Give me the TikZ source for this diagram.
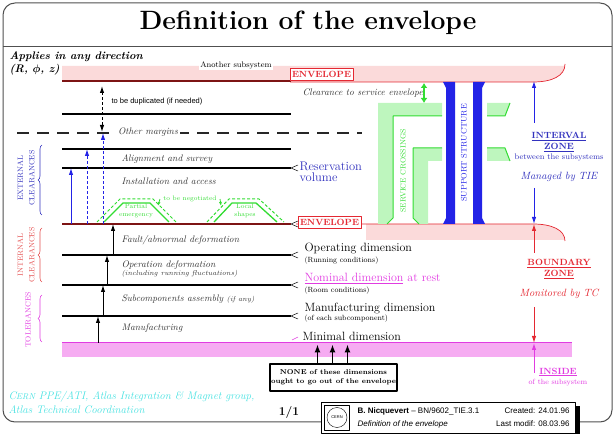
\documentclass[tikz,border=0pt]{standalone}
\usepackage{amsmath}
\usepackage{fontspec}
\newfontfamily\helv{Liberation Sans}
\usetikzlibrary{arrows.meta,decorations.pathreplacing}

\definecolor{framec}{RGB}{80,80,80}
\definecolor{envred}{RGB}{125,20,20}
\definecolor{envpink}{RGB}{251,218,218}
\definecolor{redtxt}{RGB}{228,40,50}
\definecolor{magline}{RGB}{225,60,225}
\definecolor{magfill}{RGB}{246,172,242}
\definecolor{grline}{RGB}{50,220,50}
\definecolor{grfill}{RGB}{190,246,190}
\definecolor{bluebar}{RGB}{35,35,230}
\definecolor{bluetxt}{RGB}{50,50,190}
\definecolor{cyantxt}{RGB}{70,225,225}
\definecolor{salmon}{RGB}{228,80,80}

\begin{document}
\begin{tikzpicture}[x=1pt,y=-1pt,line join=round,
  lbl/.style={anchor=west,text=black!80,font=\fontsize{9.5}{11}\selectfont\itshape},
  dimtxt/.style={anchor=west,font=\fontsize{12}{13}\selectfont},
  dimsub/.style={anchor=west,font=\fontsize{7.5}{8}\selectfont},
  envbox/.style={draw=redtxt,fill=white,text=redtxt,line width=0.7pt,inner sep=0pt,
    minimum width=63,minimum height=12.5,font=\fontsize{9}{10}\selectfont\bfseries},
  zonetxt/.style={align=center,font=\fontsize{9}{10.5}\selectfont\bfseries},
  zonesub/.style={font=\fontsize{8}{9}\selectfont},
  zoneit/.style={font=\fontsize{10.5}{12}\selectfont\itshape},
  sidetxt/.style={rotate=90,align=center,font=\fontsize{7.5}{11.5}\selectfont},
  sbrace/.style={decorate,decoration={brace,amplitude=4pt},line width=0.6pt},
  chev/.style={line width=0.5pt},
  lvl/.style={line width=1.2pt},
  arr/.style={line width=1pt,-{Latex[length=7pt,width=4.5pt]}},
  dsh/.style={dash pattern=on 3pt off 2pt},
  grn/.style={text=grline,font=\fontsize{6.5}{7.5}\selectfont,align=center}]

\useasboundingbox (0,0) rectangle (616,435);

% frame and title
\draw[framec,line width=1pt,rounded corners=12] (3,3) rectangle (612,422);
\draw[framec,line width=1pt] (3,47) -- (612,47);
\node[font=\fontsize{26.5}{30}\selectfont\bfseries] (title) at (308,23) {Definition of the envelope};
\node[anchor=west,font=\fontsize{11}{12}\selectfont\bfseries\itshape] (applies) at (6,57) {Applies in any direction};
\node[anchor=west,font=\fontsize{11}{12}\selectfont\bfseries\itshape] (rphiz) at (6,70) {(R, $\boldsymbol{\phi}$, z)};

\foreach \n/\y in {envu/81,dup/114,marg/133,align/149,resv/168,envl/224,oper/255,nom/285,manu/316,min/343}
  \coordinate (lv\n) at (0,\y);
\coordinate (zx) at (534,0);

% envelopes
\fill[envpink] (62,66) -- (565,66) .. controls (565,76) and (552,82) .. (533,82) -- (62,82) -- cycle;
\fill[envpink] (366,224) -- (533,224) .. controls (552,224) and (565,230) .. (565,240) -- (366,240) -- cycle;
\draw[redtxt,line width=0.7pt] (290,82) -- (533,82) .. controls (552,82) and (565,76) .. (565,64);
\draw[redtxt,line width=0.7pt] (296,224) -- (533,224) .. controls (552,224) and (565,230) .. (565,241);
\draw[envred,line width=2.6pt] ([xshift=62]lvenvu) -- ([xshift=291]lvenvu);
\draw[envred,line width=2.6pt] ([xshift=62]lvenvl) -- ([xshift=291]lvenvl);
\node[fill=white,inner sep=1.5pt,font=\fontsize{8}{9}\selectfont] (another) at (236,65) {Another subsystem};
\node[envbox] (envtop) at (321.5,74.5) {ENVELOPE};
\node[envbox] (envbot) at (329.5,222.5) {ENVELOPE};

% service crossings and support
\fill[grfill] (378,103) -- (442,103) -- (442,116) -- (393,116) -- (393,218) -- (387,224) -- (378,224) -- cycle;
\fill[grfill] (413,148) -- (442,148) -- (442,161) -- (428,161) -- (428,224) -- (419,224) -- (413,218) -- cycle;
\fill[grfill] (487,103) -- (510,103) -- (505,116) -- (487,116) -- cycle;
\fill[grfill] (487,148) -- (505,148) -- (510,161) -- (487,161) -- cycle;
\draw[grline,line width=1pt] (442,116) -- (393,116) -- (393,218) -- (387,224);
\draw[grline,line width=1pt] (442,148) -- (413,148) -- (413,218) -- (419,224);
\draw[grline,line width=1pt] (487,116) -- (505,116) -- (510,103);
\draw[grline,line width=1pt] (487,148) -- (505,148) -- (510,161);
\node[sidetxt,text=grline,font=\fontsize{7.5}{9}\selectfont] (servc) at (403,171) {SERVICE CROSSINGS};
\fill[bluebar] (443,82) -- (455,82) -- (455,224) -- (443,224) -- (446,218) -- (446,88) -- cycle;
\fill[bluebar] (473,82) -- (485,82) -- (482,88) -- (482,218) -- (485,224) -- (473,224) -- cycle;
\node[sidetxt,text=bluebar,font=\fontsize{8}{9}\selectfont] (supp) at (464,153) {SUPPORT STRUCTURE};
\node[lbl] (clear) at (299,93) {Clearance to service envelope};
\coordinate (clra) at (424,83);
\coordinate (clrb) at (424,103);
\draw[grline,line width=1.5pt,{Latex[length=5pt,width=7pt]}-{Latex[length=5pt,width=7pt]}] (clra) -- (clrb);

% levels
\foreach \n in {dup,align,resv,oper,nom,manu}
  \draw[lvl] ([xshift=62]lv\n) -- ([xshift=291]lv\n);
\draw[lvl,black!85,dash pattern=on 12pt off 8pt] ([xshift=17]lvmarg) -- ([xshift=362]lvmarg);
\foreach \n in {resv,oper,nom,manu,envl}
  \draw[chev] ([xshift=298,yshift=3]lv\n) -- ([xshift=291]lv\n) -- ([xshift=298,yshift=-3]lv\n);
\fill[magfill] (62,343) rectangle (572,357);
\draw[magline,line width=1pt] ([xshift=62]lvmin) -- ([xshift=572]lvmin);
\draw[chev,magline] ([xshift=298,yshift=6]lvmin) -- ([xshift=292,yshift=3]lvmin);

\node[anchor=west,font=\helv\fontsize{7.5}{9}\selectfont] (dupl) at (108,102) {to be duplicated (if needed)};
\node[lbl,fill=white,inner sep=2pt] (margins) at (116,132) {Other margins};
\node[lbl] (alignt) at (118,159) {Alignment and survey};
\node[lbl] (install) at (118,181) {Installation and access};
\node[lbl] (fault) at (118,240) {Fault/abnormal deformation};
\node[lbl] (opdef) at (118,265) {Operation deformation};
\node[lbl,font=\fontsize{7}{8}\selectfont\itshape] (incl) at (118,273.5) {(including running fluctuations)};
\node[lbl] (subc) at (118,299) {Subcomponents assembly {\fontsize{7}{8}\selectfont(if any)}};
\node[lbl] (manuf) at (118,328) {Manufacturing};

% negotiated shapes
\draw[grline,line width=1.3pt] (104,222) -- (123,203) -- (150,203) -- (169,222);
\draw[grline,line width=1pt,dsh] (97,222) -- (120,199) -- (153,199) -- (176,222);
\draw[grline,line width=1.3pt] (214,222) -- (232,203) -- (256,203) -- (277,222);
\draw[grline,line width=1pt,dsh] (207,222) -- (229,199) -- (259,199) -- (284,222);
\node[grn] (partial) at (136,211) {Partial\\emergency};
\node[grn] (local) at (245,211) {Local\\shapes};
\node[grn] (nego) at (190,199) {to be negotiated};
\coordinate (b1) at (158,206);
\coordinate (b2) at (221,206);
\draw[grline,line width=0.8pt,-{Latex[length=4pt,width=3pt]}] (nego.west) -- (b1);
\draw[grline,line width=0.8pt,-{Latex[length=4pt,width=3pt]}] (nego.east) -- (b2);

% arrows
\draw[line width=1pt,dsh,{Latex[length=7pt,width=4.5pt]}-{Latex[length=7pt,width=4.5pt]}] ([xshift=102,yshift=-5]lvenvu) -- ([xshift=102,yshift=1]lvmarg);
\draw[arr,bluebar] ([xshift=71]lvenvl) -- ([xshift=71]lvresv);
\draw[arr,bluebar,dsh] ([xshift=87]lvenvl) -- ([xshift=87]lvalign);
\draw[arr,bluebar,dsh] ([xshift=103]lvenvl) -- ([xshift=103]lvmarg);
\foreach \x/\a/\b in {113/oper/envl,107/nom/oper,103/manu/nom,98/min/manu}
  \draw[arr] ([xshift=\x]lv\a) -- ([xshift=\x]lv\b);

% side braces
\node[sidetxt,text=bluetxt] (ext) at (26,178) {EXTERNAL\\CLEARANCES};
\draw[sbrace,bluetxt] (42,215) -- (42,145);
\node[sidetxt,text=salmon] (int) at (26,255) {INTERNAL\\CLEARANCES};
\draw[sbrace,salmon] (42,282) -- (42,228);
\node[sidetxt,text=magline] (tol) at (28,320) {TOLERANCES};
\draw[sbrace,magline] (42,342) -- (42,295);

% dimensions
\node[dimtxt,text=bluetxt,align=left,font=\fontsize{12.5}{11}\selectfont] (resv) at (296,171.5) {Reservation\\volume};
\node[dimtxt] (operd) at (301,249) {Operating dimension};
\node[dimsub] (runc) at (301,261) {(Running conditions)};
\node[dimtxt,text=magline] (nomd) at (301,279) {\underline{Nominal dimension} at rest};
\node[dimsub] (roomc) at (301,291) {(Room conditions)};
\node[dimtxt] (manud) at (301,309) {Manufacturing dimension};
\node[dimsub] (eachc) at (301,319) {(of each subcomponent)};
\node[dimtxt] (mind) at (299,336) {Minimal dimension};

% zones
\node[zonetxt,text=bluetxt] (intv) at (559,142) {\underline{INTERVAL}\\\underline{ZONE}};
\node[zonesub,text=bluetxt] (betw) at (559,158) {between the subsystems};
\node[zoneit,text=bluetxt] (mtie) at (559,177) {Managed by TIE};
\coordinate (iv1) at (534,123);
\coordinate (iv2) at (534,188);
\draw[arr,bluebar] (iv1) -- (zx |- lvenvu);
\draw[arr,bluebar] (iv2) -- (zx |- lvenvl);
\node[zonetxt,text=redtxt] (bnd) at (559,269) {\underline{BOUNDARY}\\\underline{ZONE}};
\node[zoneit,text=redtxt] (mtc) at (559,294) {Monitored by TC};
\coordinate (bz1) at (534,253);
\coordinate (bz2) at (534,307);
\draw[arr,redtxt] (bz1) -- (zx |- lvenvl);
\draw[arr,redtxt] (bz2) -- (zx |- lvmin);
\node[zonetxt,text=magline] (ins) at (558,372) {\underline{INSIDE}};
\node[zonesub,text=magline,font=\fontsize{7.5}{9}\selectfont] (ofsub) at (558,383) {of the subsystem};
\coordinate (in1) at (534,373);
\draw[arr,magline] (in1) -- (zx |- lvmin);

% none box
\node[draw,line width=1.2pt,fill=white,align=center,inner sep=0pt,minimum width=127,minimum height=27,
  font=\fontsize{7}{9}\selectfont\bfseries] (none) at (333.5,377.5) {NONE of these dimensions\\ought to go out of the envelope};
\foreach \d in {-16,-1,14}
  \draw[line width=1.5pt,-{Latex[length=8pt,width=6pt]}] ([xshift=\d]none.north) -- ++(0,-19);

% footer
\node[anchor=west,text=cyantxt,align=left,font=\fontsize{11}{14}\selectfont\itshape] (cern) at (5,402)
  {C{\fontsize{8.5}{10}\selectfont ERN} PPE/ATI, Atlas Integration \& Magnet group,\\Atlas Technical Coordination};
\node[font=\fontsize{12}{14}\selectfont\bfseries] (page) at (289,413) {1/1};
\fill (574,406) rectangle (580,434);
\node[draw,fill=white,line width=0.5pt,minimum width=254,minimum height=31,inner sep=0pt] (foot) at (448,417.5) {};
\node[draw,minimum size=25,inner sep=0pt] (logo) at (337,417.5) {};
\draw (logo.center) circle (10);
\node[font=\helv\fontsize{4}{4}\selectfont] (logotxt) at (logo.center) {CERN};
\node[anchor=west,font=\helv\fontsize{8}{9}\selectfont] (auth) at (354,411) {\textbf{B. Nicquevert} \textendash{} BN/9602\_TIE.3.1};
\node[anchor=west,font=\helv\fontsize{8}{9}\selectfont\itshape] (ftitle) at (354,424) {Definition of the envelope};
\node[anchor=east,font=\helv\fontsize{8}{9}\selectfont] (created) at (573,411) {Created: 24.01.96};
\node[anchor=east,font=\helv\fontsize{8}{9}\selectfont] (modif) at (573,424) {Last modif: 08.03.96};
\end{tikzpicture}
\end{document}
